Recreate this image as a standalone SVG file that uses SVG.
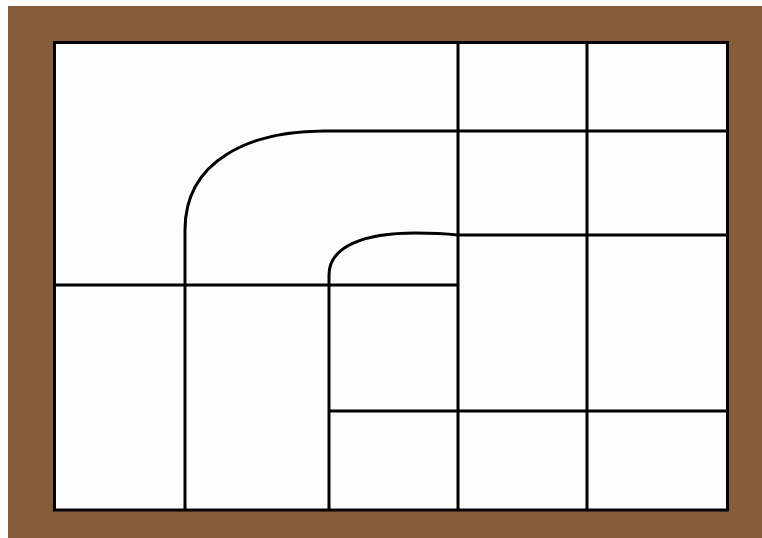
<svg xmlns="http://www.w3.org/2000/svg" width="762" height="538" viewBox="0 0 762 538">
<style>
.w{fill:none;stroke:#000;stroke-width:3}
</style>
<rect x="0" y="0" width="762" height="538" fill="#fdfdfd"/>
<rect x="8" y="6" width="760" height="540" fill="#855d3a"/>
<rect x="54.5" y="42.5" width="673" height="467.5" fill="#fdfdfd" stroke="#000" stroke-width="3"/>
<g id="walls">
<path class="w" d="M458,43 V510"/>
<path class="w" d="M587,43 V510"/>
<path class="w" d="M185,510 V230 C185,160 250,131 325,131 H728"/>
<path class="w" d="M329,510 V275 C329,246 365,233 415,233 Q440,233 458,235 H728"/>
<path class="w" d="M55,285 H458"/>
<path class="w" d="M329,411 H728"/>
</g>
</svg>
